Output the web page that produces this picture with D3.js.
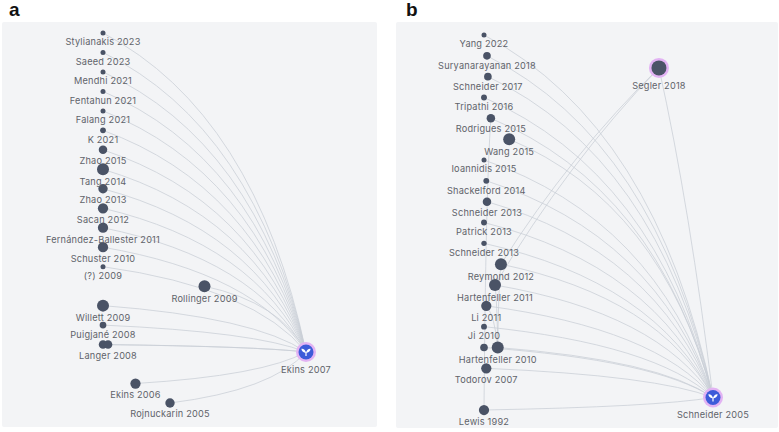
<!DOCTYPE html>
<html>
<head>
<meta charset="utf-8">
<script src="https://cdn.jsdelivr.net/npm/d3@7"></script>
<style>
  body { margin: 0; background: #fff; }
  svg { display: block; }
</style>
</head>
<body>
<div id="chart"></div>
<script>
// Panel a: citing papers (left column) around the focal paper
const aLabels = ["Stylianakis 2023", "Saeed 2023", "Mendhi 2021", "Fentahun 2021", "Falang 2021",
  "K 2021", "Zhao 2015", "Tang 2014", "Zhao 2013", "Sacan 2012", "Fernández-Ballester 2011",
  "Schuster 2010", "(?) 2009", "Rollinger 2009", "Willett 2009", "Puigjané 2008", "",
  "Langer 2008", "Ekins 2006", "Rojnuckarin 2005"];
const aCols = [0, 0, 0, 0, 0, 0, 0, 0, 0, 0, 0, 0, 0, 5, 0, 0, 0, 0.25, 1.6, 3.3];
const aRows = [0, 1, 2, 3, 4, 5, 6, 7, 8, 9, 10, 11, 12, 13, 14, 15, 16, 16, 18, 19];
const aWeights = [1, 1, 1, 1, 1, 1.4, 3, 5, 3.5, 4, 4, 4, 1, 5, 5, 2, 3, 3, 4, 3.5];
const aHubLabels = ["Ekins 2007"];
const aHubCols = [10];
const aHubRows = [16.38];

// Panel b
const bLabels = ["Yang 2022", "Suryanarayanan 2018", "Schneider 2017", "Tripathi 2016",
  "Rodrigues 2015", "Wang 2015", "Ioannidis 2015", "Shackelford 2014", "Schneider 2013",
  "Patrick 2013", "Schneider 2013", "Reymond 2012", "Hartenfeller 2011", "Li 2011", "Ji 2010",
  "", "Hartenfeller 2010", "Todorov 2007", "Lewis 1992"];
const bCols = [0, 0.13, 0.17, 0, 0.3, 1.1, 0, 0.1, 0.13, 0, 0, 0.74, 0.48, 0.1, 0, 0, 0.6, 0.1, 0];
const bRows = [0, 1, 2, 3, 4, 5, 6, 7, 8, 9, 10, 11, 12, 13, 14, 15, 15, 16, 18];
const bWeights = [1, 2.5, 2.5, 1.5, 3, 5, 1, 1.5, 3, 1.5, 1.2, 5, 5, 4, 1.5, 2.5, 5, 4, 4];
const bHubLabels = ["Segler 2018", "Schneider 2005"];
const bHubCols = [7.64, 10];
const bHubRows = [1.58, 17.4];
const bHubFocus = [false, true];
// extra links besides "every paper -> last hub"
const bExtraLinks = [["h0", "n11"], ["h0", "n12"], ["h0", "h1"],
  ["n4", "n18"], ["n11", "n16"], ["n12", "n16"], ["n13", "n16"]];

const width = 779, height = 432;

const svg = d3.select("#chart").append("svg")
  .attr("width", width)
  .attr("height", height);

const rScale = d3.scaleLinear().domain([1, 5]).range([2.5, 6]);

function drawPanel(opt) {
  const g = svg.append("g");

  //Panel background
  g.append("rect")
    .attr("x", opt.box[0]).attr("y", opt.box[1])
    .attr("width", opt.box[2]).attr("height", opt.box[3])
    .attr("rx", 2)
    .attr("fill", "#f3f4f6");

  svg.append("text")
    .attr("x", opt.letterX).attr("y", 16)
    .attr("font-family", "Liberation Sans, Arial, sans-serif")
    .attr("font-weight", "bold")
    .attr("font-size", 19)
    .attr("fill", "#111")
    .text(opt.letter);

  const x = d3.scaleLinear().domain([0, 10]).range(opt.xRange);
  const y = d3.scaleLinear().domain([0, opt.rowMax]).range(opt.yRange);

  const nodes = opt.labels.map((l, i) => ({
    id: "n" + i, label: l, x: x(opt.cols[i]), y: y(opt.rows[i]), r: rScale(opt.weights[i]), hub: false
  }));
  const hubs = opt.hubLabels.map((l, i) => ({
    id: "h" + i, label: l, x: x(opt.hubCols[i]), y: y(opt.hubRows[i]), r: 7.5, hub: true,
    focus: opt.hubFocus[i]
  }));
  const byId = new Map(nodes.concat(hubs).map(d => [d.id, d]));

  const lastHub = hubs[hubs.length - 1];
  const links = nodes.map(n => ({ source: n, target: lastHub, bend: 0.5 }));
  opt.extra.forEach(([s, t]) => {
    const a = byId.get(s), b = byId.get(t);
    const bend = (a.hub && b.hub) ? 0.15 : (a.hub || b.hub) ? 0.12 : 0.5;
    links.push({ source: a, target: b, bend: bend });
  });

  //Curved links: control point pulled toward the (target.x, source.y) corner
  g.selectAll(".link")
    .data(links)
    .join("path")
    .attr("class", "link")
    .attr("fill", "none")
    .attr("stroke", "#c9ced6")
    .attr("stroke-opacity", 0.85)
    .attr("stroke-width", 0.9)
    .attr("d", d => {
      const s = d.source, t = d.target;
      const mx = (s.x + t.x) / 2, my = (s.y + t.y) / 2;
      const cx = mx + d.bend * (t.x - mx), cy = my + d.bend * (s.y - my);
      const p = d3.path();
      p.moveTo(s.x, s.y);
      p.quadraticCurveTo(cx, cy, t.x, t.y);
      return p.toString();
    });

  //Papers
  g.selectAll(".node")
    .data(nodes)
    .join("circle")
    .attr("class", "node")
    .attr("cx", d => d.x).attr("cy", d => d.y)
    .attr("r", d => d.r)
    .attr("fill", "#4a5366");

  //Hubs
  const hg = g.selectAll(".hub")
    .data(hubs)
    .join("g")
    .attr("class", "hub")
    .attr("transform", d => `translate(${d.x},${d.y})`);
  hg.append("circle").attr("r", 10).attr("fill", "#e2b3f3");
  hg.append("circle").attr("r", 7.5).attr("fill", d => d.focus ? "#3d5bd9" : "#4a5366");
  const icon = hg.filter(d => d.focus).append("g").attr("fill", "#fff");
  icon.append("path").attr("d", "M-0.6,4L0.6,4L0.6,0L-0.6,0Z");
  icon.append("path").attr("d", "M0,0.8C-0.6,-2.2 -2.8,-3.6 -4.6,-3.2C-4.6,-1 -2.8,0.8 0,0.8Z");
  icon.append("path").attr("d", "M0,0.8C0.6,-2.2 2.8,-3.6 4.6,-3.2C4.6,-1 2.8,0.8 0,0.8Z");

  //Labels
  g.selectAll(".label")
    .data(nodes.concat(hubs).filter(d => d.label))
    .join("text")
    .attr("class", "label")
    .attr("x", d => d.x)
    .attr("y", d => d.y + (d.hub ? 11 : d.r) + 9.8)
    .attr("text-anchor", "middle")
    .attr("font-family", "Inter, 'Open Sans', sans-serif")
    .attr("font-size", 9.2)
    .attr("letter-spacing", 0.2)
    .attr("fill", "#5f636a")
    .text(d => d.label);
}

drawPanel({
  letter: "a", letterX: 9,
  box: [2, 22, 375, 405],
  xRange: [103, 306], yRange: [33, 403], rowMax: 19,
  labels: aLabels, cols: aCols, rows: aRows, weights: aWeights,
  hubLabels: aHubLabels, hubCols: aHubCols, hubRows: aHubRows, hubFocus: [true],
  extra: []
});

drawPanel({
  letter: "b", letterX: 406,
  box: [396, 22, 382, 406],
  xRange: [484, 713], yRange: [35, 410], rowMax: 18,
  labels: bLabels, cols: bCols, rows: bRows, weights: bWeights,
  hubLabels: bHubLabels, hubCols: bHubCols, hubRows: bHubRows, hubFocus: bHubFocus,
  extra: bExtraLinks
});
</script>
</body>
</html>
